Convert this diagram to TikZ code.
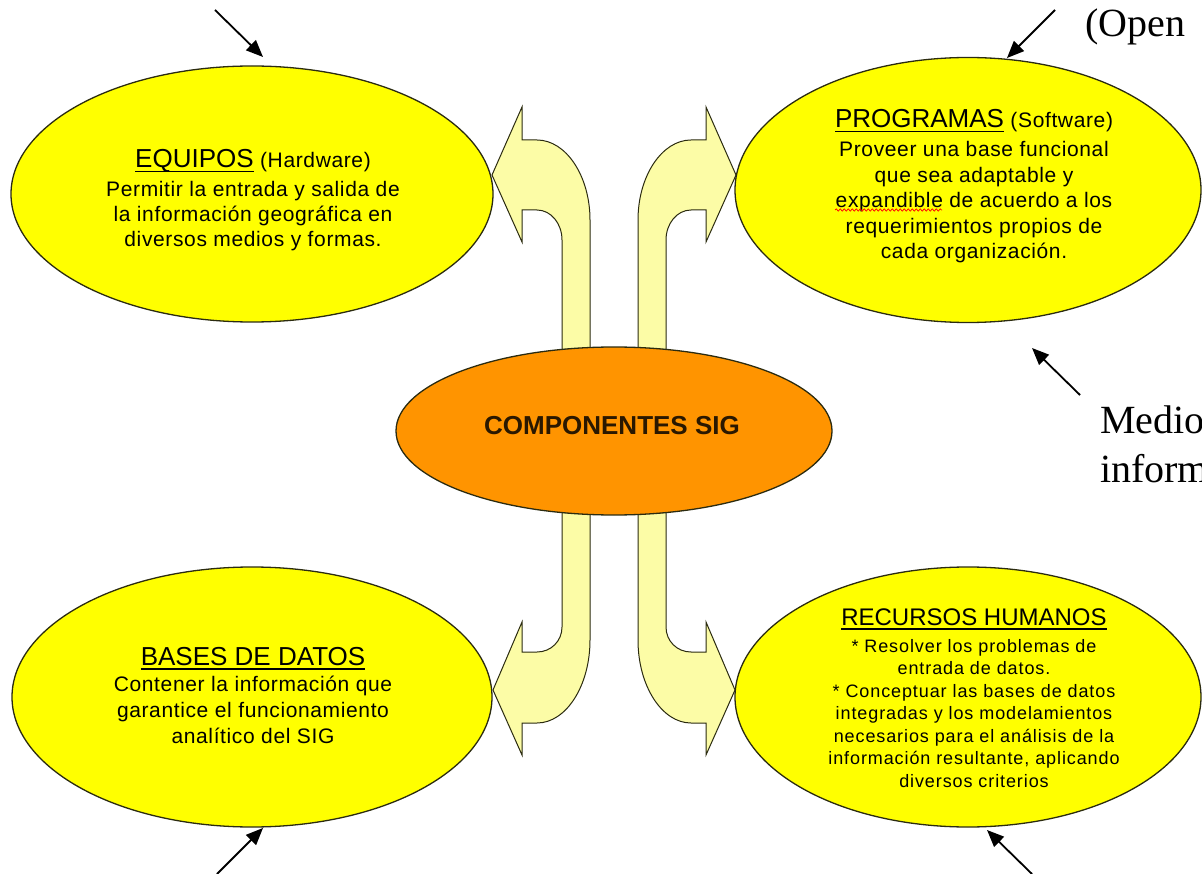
\documentclass[tikz,border=0pt]{standalone}
\usepackage{fontspec}
\setmainfont{Liberation Serif}
\newfontfamily\sansH{Liberation Sans}
\newfontfamily\sansA[LetterSpace=3]{Liberation Sans}
\newfontfamily\sansB[LetterSpace=5]{Liberation Sans}
\usetikzlibrary{shapes.geometric,arrows.meta,decorations.pathmorphing}
\definecolor{ylw}{HTML}{FFFF00}
\definecolor{org}{HTML}{FF9400}
\definecolor{paleylw}{HTML}{FCFCA6}
\definecolor{edgec}{HTML}{2B2B10}
\definecolor{ctext}{HTML}{2A1800}
\newcommand\myul[1]{\setbox0\hbox{#1}\rlap{\rule[-4.5pt]{\wd0}{1.8pt}}\box0\relax}
\begin{document}
\begin{tikzpicture}[x=1pt,y=-1pt,
  comp/.style={ellipse, draw=edgec, line width=1.3pt, fill=ylw, inner sep=0pt},
  blockarrow/.style={draw=edgec, line width=1pt, fill=paleylw, line join=miter},
  ptr/.style={line width=1.8pt, -{Triangle[length=17pt,width=14pt]}},
  txt/.style={align=center, anchor=base, inner sep=0pt, text=black},
  serif/.style={anchor=base west, inner sep=0pt, align=left, font=\fontsize{40}{49}\selectfont}]
\useasboundingbox (0,0) rectangle (1202,874);

% component ellipses
\node[comp, minimum width=482pt, minimum height=256pt] (eq) at (252,194) {};
\node[comp, minimum width=466pt, minimum height=265pt] (pr) at (968,190) {};
\node[comp, minimum width=480pt, minimum height=260pt] (bd) at (252,697) {};
\node[comp, minimum width=466pt, minimum height=260pt] (rh) at (968,697) {};

% block arrows
\draw[blockarrow] (590,360) -- (590,220) .. controls (590,176) and (566,140) .. (537,140)
  -- (522,140) -- (522,107) -- (492,175) -- (522,242) -- (522,210) -- (537,210)
  .. controls (551,210) and (562,223.5) .. (562,240) -- (562,360) -- cycle;
\draw[blockarrow] (638,360) -- (638,220) .. controls (638,176) and (662,140) .. (691,140)
  -- (706,140) -- (706,107) -- (736,175) -- (706,242) -- (706,210) -- (691,210)
  .. controls (677,210) and (666,223.5) .. (666,240) -- (666,360) -- cycle;
\draw[blockarrow] (562,505) -- (562,627) .. controls (562,641) and (551,652) .. (537,652)
  -- (522,652) -- (522,622) -- (493,690) -- (522,755) -- (522,723) -- (537,723)
  .. controls (566,723) and (590,686) .. (590,640) -- (590,505) -- cycle;
\draw[blockarrow] (666,505) -- (666,627) .. controls (666,641) and (677,652) .. (691,652)
  -- (706,652) -- (706,622) -- (735,690) -- (706,755) -- (706,723) -- (691,723)
  .. controls (662,723) and (638,686) .. (638,640) -- (638,505) -- cycle;

% centre
\node[ellipse, draw=edgec, line width=1.3pt, fill=org, inner sep=0pt,
      minimum width=436pt, minimum height=168pt] (c) at (614,431) {};
\node[anchor=base, inner sep=0pt, text=ctext, font=\sansH\bfseries\fontsize{26}{30}\selectfont]
  (ct) at (612,435) {COMPONENTES SIG};

% texts in the ellipses (anchor = baseline of the last line)
\node[txt, font=\sansA\fontsize{21}{25}\selectfont] (eqt) at (253,247)
  {\myul{\sansH\fontsize{26}{28}\selectfont EQUIPOS} {\sansA\fontsize{21}{24}\selectfont (Hardware)}\\[4pt]
   Permitir la entrada y salida de\\ la información geográfica en\\ diversos medios y formas.};
\node[txt, font=\sansA\fontsize{21}{25.5}\selectfont] (prt) at (974,259)
  {\myul{\sansH\fontsize{26}{28}\selectfont PROGRAMAS} {\sansA\fontsize{21}{24}\selectfont (Software)}\\[3.5pt]
   Proveer una base funcional\\ que sea adaptable y\\ expandible de acuerdo a los\\
   requerimientos propios de\\ cada organización.};
\node[txt, font=\sansA\fontsize{21}{26}\selectfont] (bdt) at (253,743)
  {\myul{\sansH\fontsize{26}{28}\selectfont BASES DE DATOS}\\
   Contener la información que\\ garantice el funcionamiento\\ analítico del SIG};
\node[txt, font=\sansB\fontsize{18}{22.5}\selectfont] (rht) at (974,787)
  {\myul{\sansH\fontsize{24}{26}\selectfont RECURSOS HUMANOS}\\[4.5pt]
   * Resolver los problemas de\\ entrada de datos.\\ * Conceptuar las bases de datos\\
   integradas y los modelamientos\\ necesarios para el análisis de la\\
   información resultante, aplicando\\ diversos criterios};

% spelling squiggle
\coordinate (sq1) at (835,210);
\coordinate (sq2) at (942,210);
\draw[red, line width=0.7pt, decorate, decoration={snake, amplitude=1.2pt, segment length=4pt}] (sq1) -- (sq2);

% pointer arrows
\coordinate (a1s) at (215,10);   \coordinate (a1e) at (263,57);
\coordinate (a2s) at (1055,10);  \coordinate (a2e) at (1007,58);
\coordinate (a3s) at (1080,395); \coordinate (a3e) at (1032,348);
\coordinate (a4s) at (217,874);  \coordinate (a4e) at (263,828);
\coordinate (a5s) at (1032,874); \coordinate (a5e) at (987,830);
\draw[ptr] (a1s) -- (a1e);
\draw[ptr] (a2s) -- (a2e);
\draw[ptr] (a3s) -- (a3e);
\draw[ptr] (a4s) -- (a4e);
\draw[ptr] (a5s) -- (a5e);

% cut-off serif texts
\node[serif] (open) at (1085,37) {(Open};
\node[serif] (medio) at (1100,482) {Medio\\inform};
\end{tikzpicture}
\end{document}
